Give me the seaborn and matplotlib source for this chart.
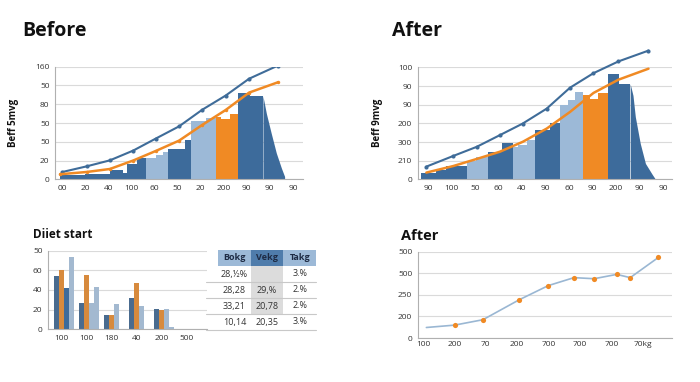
import matplotlib
matplotlib.use("Agg")
import matplotlib.pyplot as plt
import seaborn as sns
import pandas as pd
import numpy as np

# colours
DARK = "#3d6b9b"
LIGHT = "#9cb9d7"
ORANGE = "#f08a24"
GRID = "#dadada"
TXT = "#333333"

# ---- top left: "Before" ----
before_xlabels = ["00", "20", "40", "100", "60", "50", "20", "200", "90", "90", "90"]
before_ylabels = ["0", "20", "50", "50", "80", "50", "160"]
before_edges = [-0.1, 1.0, 2.06, 2.64, 2.79, 3.22, 3.61, 4.05, 4.37, 4.59, 5.31,
                5.60, 6.25, 6.65, 6.90, 7.26, 7.62, 8.12, 8.70]
before_heights = [0.22, 0.3, 0.5, 0.35, 0.8, 1.12, 1.15, 1.28, 1.47, 1.63, 2.1,
                  3.1, 3.25, 3.34, 3.21, 3.46, 4.62, 4.44]
before_groups = ["d", "d", "d", "d", "d", "d", "l", "l", "l", "d", "d",
                 "l", "l", "o", "o", "o", "d", "d"]
before_tail_x = [8.70, 8.85, 9.06, 9.28, 9.5, 9.64]
before_tail_y = [4.44, 3.5, 2.45, 1.4, 0.6, 0.15]
before_blue_x = [0.0, 1.05, 2.06, 3.07, 4.05, 5.06, 6.07, 7.08, 8.1, 9.35]
before_blue_y = [0.39, 0.69, 1.01, 1.53, 2.17, 2.82, 3.71, 4.46, 5.36, 6.06]
before_orange_x = [-0.1, 1.05, 2.06, 3.07, 4.05, 5.06, 6.07, 7.08, 8.1, 9.35]
before_orange_y = [0.27, 0.39, 0.55, 1.0, 1.51, 2.06, 2.9, 3.69, 4.62, 5.17]

# ---- top right: "After" ----
after_xlabels = ["90", "100", "50", "60", "40", "90", "60", "90", "200", "90", "90"]
after_ylabels = ["0", "210", "300", "200", "90", "90", "100"]
after_edges = [-0.28, 0.36, 0.78, 1.64, 2.06, 2.56, 3.13, 3.63, 3.84, 4.2, 4.55,
               5.19, 5.62, 5.97, 6.26, 6.61, 6.9, 7.25, 7.64, 8.11, 8.6]
after_heights = [0.36, 0.5, 0.71, 1.0, 1.21, 1.48, 1.92, 1.71, 1.83, 2.1, 2.63,
                 3.02, 4.0, 4.27, 4.68, 4.54, 4.32, 4.63, 5.62, 5.12]
after_groups = ["d", "d", "d", "l", "l", "d", "d", "l", "l", "l", "d",
                "d", "l", "l", "l", "o", "o", "o", "d", "d"]
after_tail_x = [8.6, 8.72, 8.82, 9.03, 9.25, 9.53, 9.65]
after_tail_y = [5.12, 4.5, 3.35, 1.92, 0.85, 0.28, 0.05]
after_blue_x = [-0.07, 1.07, 2.07, 3.06, 4.03, 5.05, 6.04, 7.04, 8.1, 9.38]
after_blue_y = [0.68, 1.25, 1.74, 2.37, 2.99, 3.79, 4.91, 5.69, 6.32, 6.9]
after_orange_x = [-0.07, 1.07, 2.07, 3.06, 4.03, 5.05, 6.04, 7.04, 8.1, 9.38]
after_orange_y = [0.36, 0.71, 1.09, 1.48, 2.01, 2.72, 3.61, 4.63, 5.34, 5.93]

# ---- bottom left: "Diiet start" ----
diet_xlabels = ["100", "100", "180", "40", "200", "500"]
diet_ylabels = ["0", "20", "40", "60", "50"]
diet_a = [54, 27, 15, 32, 21, 0]
diet_b = [60, 55, 15, 47, 20, 0]
diet_c = [42, 27, 26, 24, 21, 0]
diet_d = [74, 43, 0, 0, 2, 0]

table_cols = ["Bokg", "Vekg", "Takg"]
table_rows = [["28,½%", "", "3.%"],
              ["28,28", "29,%", "2.%"],
              ["33,21", "20,78", "2.%"],
              ["10,14", "20,35", "3.%"]]

# ---- bottom right: "After" line ----
line_xlabels = ["100", "200", "70", "200", "700", "700", "700", "70kg"]
line_ylabels = ["0", "200", "250", "500", "500"]
line_x = [0.11, 1.01, 1.91, 3.06, 3.99, 4.81, 5.45, 6.17, 6.6, 7.5]
line_y = [0.49, 0.6, 0.85, 1.77, 2.43, 2.8, 2.75, 2.95, 2.8, 3.74]

sns.set_style("white")
plt.rcParams["font.family"] = ["Open Sans", "DejaVu Sans"]

fig = plt.figure(figsize=(7, 3.82), dpi=100)
cmap = {"d": DARK, "l": LIGHT, "o": ORANGE}


def style_axes(ax, ylabels, xlabels=None):
    ax.set_axisbelow(True)
    ax.set_yticks(range(len(ylabels)))
    ax.set_yticklabels(ylabels)
    ax.set_ylim(0, len(ylabels) - 1)
    ax.yaxis.grid(True, color=GRID, lw=0.8)
    for s in ["top", "right"]:
        ax.spines[s].set_visible(False)
    for s in ["left", "bottom"]:
        ax.spines[s].set_color("#b0b0b0")
        ax.spines[s].set_linewidth(0.8)
    ax.tick_params(labelsize=6, colors=TXT, length=2, width=0.6, pad=2)
    ax.tick_params(axis="both", color="#b0b0b0")
    if xlabels is not None:
        ax.set_xticks(range(len(xlabels)))
        ax.set_xticklabels(xlabels)
    ax.set_xlabel("")


def step_area(ax, edges, heights, groups, tail_x, tail_y):
    widths = np.diff(edges)
    ax.bar(edges[:-1], heights, width=widths, align="edge",
           color=[cmap[g] for g in groups], linewidth=0, zorder=1)
    ax.fill_between(tail_x, tail_y, color=DARK, lw=0, zorder=1)


# top left
ax1 = fig.add_axes([0.0786, 0.5306, 0.354, 0.2948])
step_area(ax1, before_edges, before_heights, before_groups, before_tail_x, before_tail_y)
sns.lineplot(x=before_blue_x, y=before_blue_y, ax=ax1, color="#3f6c99", lw=1.5,
             marker="o", markersize=3, markeredgewidth=0, zorder=3)
sns.lineplot(x=before_orange_x, y=before_orange_y, ax=ax1, color=ORANGE, lw=1.8,
             marker="o", markersize=2.5, markeredgewidth=0, zorder=3)
style_axes(ax1, before_ylabels, before_xlabels)
ax1.set_xlim(-0.32, 10.43)
ax1.set_ylabel("Beff 5mvg", fontsize=7, fontweight="bold", color="#111111")
ax1.yaxis.set_label_coords(-0.145, 0.5)

# top right
ax2 = fig.add_axes([0.597, 0.5306, 0.363, 0.293])
step_area(ax2, after_edges, after_heights, after_groups, after_tail_x, after_tail_y)
sns.lineplot(x=after_blue_x, y=after_blue_y, ax=ax2, color="#3f6c99", lw=1.5,
             marker="o", markersize=3, markeredgewidth=0, zorder=3, clip_on=False)
sns.lineplot(x=after_orange_x, y=after_orange_y, ax=ax2, color=ORANGE, lw=1.8,
             zorder=3, clip_on=False)
style_axes(ax2, after_ylabels, after_xlabels)
ax2.set_xlim(-0.43, 10.38)
ax2.set_ylabel("Beff 9mvg", fontsize=7, fontweight="bold", color="#111111")
ax2.yaxis.set_label_coords(-0.138, 0.5)

# bottom left bars
ax3 = fig.add_axes([0.0686, 0.138, 0.227, 0.2058])
n = len(diet_xlabels)
df = pd.DataFrame({
    "grp": list(range(n)) * 4,
    "series": ["A"] * n + ["B"] * n + ["C"] * n + ["D"] * n,
    "val": diet_a + diet_b + diet_c + diet_d,
})
sns.barplot(data=df, x="grp", y="val", hue="series", ax=ax3,
            palette=[DARK, ORANGE, LIGHT, LIGHT], width=0.8,
            linewidth=0, legend=False, zorder=2)
for p in ax3.patches:
    cx = p.get_x() + p.get_width() / 2
    if abs(cx - 0.1) < 0.03:
        p.set_facecolor(DARK)
ax3.set_axisbelow(True)
ax3.set_yticks([0, 20, 40, 60, 80])
ax3.set_yticklabels(diet_ylabels)
ax3.set_ylim(0, 80)
ax3.yaxis.grid(True, color=GRID, lw=0.8)
for s in ["top", "right"]:
    ax3.spines[s].set_visible(False)
for s in ["left", "bottom"]:
    ax3.spines[s].set_color("#b0b0b0")
    ax3.spines[s].set_linewidth(0.8)
ax3.set_xticks(np.arange(n) - 0.1)
ax3.set_xticklabels(diet_xlabels)
ax3.set_xlim(-0.65, 5.7)
ax3.tick_params(labelsize=6, colors=TXT, length=2, width=0.6, pad=2)
ax3.tick_params(axis="both", color="#b0b0b0")
ax3.set_xlabel("")
ax3.set_ylabel("")

# table
axt = fig.add_axes([212 / 700, 1 - 330 / 382, 104 / 700, 80 / 382])
axt.set_xlim(0, 1)
axt.set_ylim(0, 1)
axt.axis("off")
tab = axt.table(cellText=table_rows, colLabels=table_cols, bbox=[0.06, 0, 0.94, 1],
                cellLoc="center")
tab.auto_set_font_size(False)
head_colors = [LIGHT, "#4f7cab", LIGHT]
for (r, c), cell in tab.get_celld().items():
    cell.set_linewidth(0)
    cell.get_text().set_fontsize(6.5)
    cell.get_text().set_color(TXT)
    if r == 0:
        cell.set_facecolor(head_colors[c])
        cell.get_text().set_fontweight("bold")
        cell.get_text().set_color("#1e2b44")
    elif c == 1 and r <= 3:
        cell.set_facecolor("#dcdcdc")
    else:
        cell.set_facecolor("white")
    if c == 2 and r > 0:
        cell._loc = "right"
for yy in [0.0, 0.2, 0.4, 0.6]:
    axt.plot([-0.06, 1.0], [yy, yy], color="#c8c8c8", lw=0.8, clip_on=False, zorder=5)

# bottom right line
ax4 = fig.add_axes([0.597, 0.115, 0.363, 0.226])
sns.lineplot(x=line_x, y=line_y, ax=ax4, color="#9ab7d3", lw=1.2, zorder=2)
sns.scatterplot(x=line_x[1:], y=line_y[1:], ax=ax4, color=ORANGE, s=14,
                linewidth=0, zorder=3)
style_axes(ax4, line_ylabels, line_xlabels)
ax4.set_xticks(np.arange(0.5, 8, 1), minor=True)
ax4.tick_params(axis="x", which="both", direction="in", length=3, color="#888888")
ax4.set_xlim(-0.16, 7.93)

# titles
fig.text(22 / 700, 1 - 36 / 382, "Before", fontsize=14, fontweight="bold",
         va="baseline", color="#111111")
fig.text(392 / 700, 1 - 36 / 382, "After", fontsize=14, fontweight="bold",
         va="baseline", color="#111111")
fig.text(33 / 700, 1 - 238 / 382, "Diiet start", fontsize=8.5, fontweight="bold",
         va="baseline", color="#111111")
fig.text(401 / 700, 1 - 240 / 382, "After", fontsize=10.5, fontweight="bold",
         va="baseline", color="#111111")

fig.savefig("out.png", dpi=100)
